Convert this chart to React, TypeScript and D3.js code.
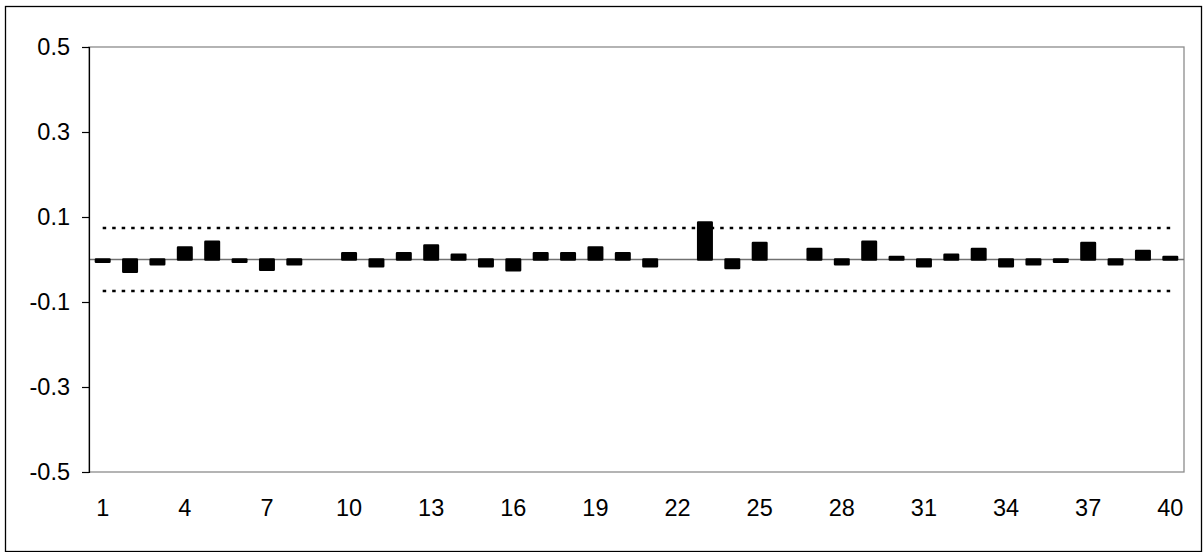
import { useEffect, useRef } from 'react';
import * as d3 from "d3";

// lag numbers 1..40
const lags: number[] = d3.range(1, 41);

// autocorrelation value at each lag
const acfValues: number[] = [
  -0.005, -0.029, -0.011, 0.028, 0.042, -0.005, -0.024, -0.011, 0, 0.015,
  -0.016, 0.015, 0.033, 0.011, -0.016, -0.025, 0.015, 0.015, 0.028, 0.015,
  -0.016, 0, 0.087, -0.020, 0.039, 0, 0.025, -0.011, 0.042, 0.006,
  -0.016, 0.011, 0.025, -0.016, -0.011, -0.005, 0.039, -0.011, 0.020, 0.006,
];

// confidence band drawn as dotted lines
const confBand: number[] = [0.074, -0.074];

const yTicks: number[] = [0.5, 0.3, 0.1, -0.1, -0.3, -0.5];
const xTickLabels: number[] = [1, 4, 7, 10, 13, 16, 19, 22, 25, 28, 31, 34, 37, 40];

const WIDTH = 1204;
const HEIGHT = 552;
const FONT = '"Liberation Sans", Arial, sans-serif';
const FONT_SIZE = 23.5;

const drawChart = (node: SVGSVGElement) => {
  const svg = d3.select(node);
  svg.selectAll("*").remove();

  const plot = { left: 89, right: 1184, top: 47, bottom: 472 };

  const x = d3.scaleBand<number>()
    .domain(lags)
    .range([plot.left, plot.right])
    .paddingInner(0.5)
    .paddingOuter(0.25);
  const center = (d: number) => (x(d) as number) + x.bandwidth() / 2;
  const y = d3.scaleLinear().domain([-0.5, 0.5]).range([plot.bottom, plot.top]);

  svg.append("rect")
    .attr("x", 5.5).attr("y", 6.5)
    .attr("width", 1196).attr("height", 545)
    .attr("fill", "white").attr("stroke", "black").attr("stroke-width", 1.3);

  // plot area border
  svg.append("rect")
    .attr("x", plot.left).attr("y", plot.top)
    .attr("width", plot.right - plot.left).attr("height", plot.bottom - plot.top)
    .attr("fill", "none").attr("stroke", "#8c8c8c").attr("stroke-width", 1.3);

  // category axis at zero
  svg.append("line")
    .attr("x1", plot.left).attr("x2", plot.right)
    .attr("y1", y(0)).attr("y2", y(0))
    .attr("stroke", "#707070").attr("stroke-width", 1.3);

  // confidence lines, from first to last category
  svg.selectAll("line.band")
    .data(confBand)
    .enter()
    .append("line")
    .attr("class", "band")
    .attr("x1", center(lags[0]))
    .attr("x2", center(lags[lags.length - 1]))
    .attr("y1", d => y(d)).attr("y2", d => y(d))
    .attr("stroke", "black").attr("stroke-width", 2.5)
    .attr("stroke-dasharray", "3.5,6");

  // bars
  const barW = 13.5;
  svg.selectAll("rect.bar")
    .data(acfValues.map((v, i) => ({ lag: lags[i], v })))
    .enter()
    .append("rect")
    .attr("class", "bar")
    .attr("x", d => center(d.lag) - barW / 2)
    .attr("width", barW)
    .attr("y", d => y(Math.max(0, d.v)))
    .attr("height", d => Math.abs(y(d.v) - y(0)))
    .attr("fill", "black")
    .attr("stroke", "black")
    .attr("stroke-width", 2.5)
    .attr("stroke-linejoin", "round");

  // y axis
  svg.append("g")
    .attr("transform", `translate(${plot.left}, 0)`)
    .call(d3.axisLeft(y).tickValues(yTicks).tickSize(7).tickPadding(12)
      .tickFormat(d => (d as number).toFixed(1)))
    .call(g => g.select(".domain").attr("stroke", "black").attr("stroke-width", 1.2))
    .call(g => g.selectAll(".tick line").attr("stroke", "black").attr("stroke-width", 1.2))
    .call(g => g.selectAll(".tick text")
      .attr("font-family", FONT).attr("font-size", FONT_SIZE).attr("fill", "black"));

  // x labels
  svg.selectAll("text.xlab")
    .data(xTickLabels)
    .enter()
    .append("text")
    .attr("class", "xlab")
    .attr("x", d => center(d))
    .attr("y", 516)
    .attr("text-anchor", "middle")
    .attr("font-family", FONT)
    .attr("font-size", FONT_SIZE)
    .attr("fill", "black")
    .text(d => String(d));
};

export default function App() {
  const ref = useRef<SVGSVGElement>(null);
  useEffect(() => {
    if (ref.current) drawChart(ref.current);
  }, []);
  return <svg
    ref={ref}
    width={WIDTH}
    height={HEIGHT}
    style={{ position: 'absolute', left: 0, top: 0, display: 'block' }}
  />
}
